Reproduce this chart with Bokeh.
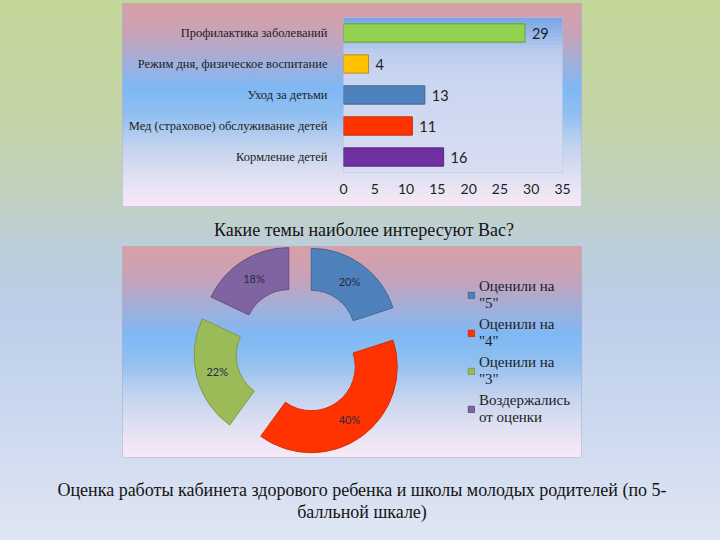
import numpy as np
from bokeh.plotting import figure
from bokeh.models import (ColumnDataSource, FactorRange, Range1d, Label, Legend,
                          LegendItem, BoxAnnotation, Spacer, FixedTicker,
                          GlobalInlineStyleSheet)
from bokeh.layouts import column, row
from bokeh.embed import file_html
from bokeh.resources import INLINE
from bokeh.core.properties import value
from bokeh.core.validation import silence
from bokeh.core.validation.warnings import MISSING_RENDERERS

silence(MISSING_RENDERERS, True)

# ---------------- data ----------------
bar_categories = [
    "Профилактика заболеваний",
    "Режим дня, физическое воспитание",
    "Уход за детьми",
    "Мед (страховое) обслуживание детей",
    "Кормление детей",
]
bar_values = [29, 4, 13, 11, 16]
bar_colors = ["#92d050", "#ffc000", "#4f81bd", "#ff3300", "#7030a0"]
bar_line_colors = ["#6f9a3c", "#b98c2a", "#3b6597", "#c42d0c", "#55267c"]
x_ticks = [0, 5, 10, 15, 20, 25, 30, 35]
bar_title = "Какие темы наиболее интересуют Вас?"

donut_labels = ['Оценили на\n"5"', 'Оценили на\n"4"', 'Оценили на\n"3"', "Воздержались\nот оценки"]
donut_values = [20, 40, 22, 18]
donut_colors = ["#4f81bd", "#ff3300", "#9bbb59", "#8064a2"]
donut_line_colors = ["#3d6a9e", "#d42e00", "#7f9a48", "#664f86"]
donut_title_lines = [
    "Оценка работы кабинета здорового ребенка и школы молодых родителей (по 5-",
    "балльной шкале)",
]

# ---------------- styling helpers ----------------
page_stops = [(0, "#c4d79a"), (20, "#c4d5a6"), (35, "#c1d2bd"), (45, "#bdcfd8"),
              (55, "#bccde8"), (75, "#c9d7ef"), (100, "#e0e6f3")]
box_stops = [(0, "#d9a0a4"), (15, "#c8a2b8"), (30, "#9fb0dc"), (42, "#7fb8f5"),
             (55, "#92c0f0"), (70, "#c2d2ee"), (85, "#e0e0f2"), (100, "#f8e9f7")]
frame_stops = [(0, "#78a6e4"), (10, "#93b6ea"), (22, "#bccdee"), (40, "#cad6f0"),
               (100, "#d9ddf1")]


def css_grad(stops):
    return "linear-gradient(180deg, " + ", ".join(f"{c} {p}%" for p, c in stops) + ")"


def hex2rgb(h):
    h = h.lstrip("#")
    return np.array([int(h[i:i + 2], 16) for i in (0, 2, 4)], dtype=float)


def interp_color(stops, t):
    ps = [p / 100 for p, _ in stops]
    cs = [hex2rgb(c) for _, c in stops]
    for i in range(len(ps) - 1):
        if ps[i] <= t <= ps[i + 1]:
            f = (t - ps[i]) / (ps[i + 1] - ps[i])
            c = cs[i] * (1 - f) + cs[i + 1] * f
            return "#%02x%02x%02x" % tuple(int(round(v)) for v in c)
    return stops[-1][1]


box_style = {"background": css_grad(box_stops),
             "box-shadow": "inset 0 0 0 1px rgba(170,178,195,0.6)"}

SERIF = "Liberation Serif"
SANS = "Lato"

# ---------------- bar chart ----------------
bar_src = ColumnDataSource(dict(cat=bar_categories, val=bar_values,
                                color=bar_colors, line=bar_line_colors,
                                txt=[str(v) for v in bar_values]))

p1 = figure(width=460, height=204, output_backend="svg", toolbar_location=None,
            x_range=Range1d(0, 35), y_range=FactorRange(factors=bar_categories[::-1]),
            min_border_left=221, min_border_right=20, min_border_top=14,
            min_border_bottom=35, styles=box_style)
p1.background_fill_color = None
p1.border_fill_color = None
p1.outline_line_color = "#b9c2da"
p1.outline_line_alpha = 0.6

n_strip = 40
for i in range(n_strip):
    t0 = i / n_strip
    col = interp_color(frame_stops, t0 + 0.5 / n_strip)
    top = 5 - t0 * 5
    bot = 5 - (i + 1) / n_strip * 5 - 0.02
    p1.add_layout(BoxAnnotation(top=top, bottom=max(bot, 0), fill_color=col,
                                fill_alpha=1, line_color=None, level="underlay"))

p1.hbar(y="cat", left=0, right="val", height=0.59, source=bar_src,
        fill_color="color", line_color="line", line_width=1)
p1.text(x="val", y="cat", text="txt", source=bar_src, x_offset=7,
        text_baseline="middle", text_align="left", text_font=value(SANS),
        text_font_size="14.5px", text_color="#1e1e1e")

p1.xgrid.visible = False
p1.ygrid.visible = False
p1.xaxis.ticker = FixedTicker(ticks=x_ticks)
for ax in (p1.xaxis[0], p1.yaxis[0]):
    ax.axis_line_color = None
    ax.major_tick_line_color = None
    ax.minor_tick_line_color = None
p1.xaxis.major_label_text_font = SANS
p1.xaxis.major_label_text_font_size = "14px"
p1.xaxis.major_label_text_color = "#1e1e1e"
p1.xaxis.major_label_standoff = 5
p1.yaxis.major_label_text_font = SERIF
p1.yaxis.major_label_text_font_size = "12.5px"
p1.yaxis.major_label_text_color = "#1e1e1e"
p1.yaxis.major_label_standoff = 10


# ---------------- captions ----------------
def caption(lines, height, ys, xc):
    f = figure(width=720, height=height, output_backend="svg", toolbar_location=None,
               x_range=Range1d(0, 720), y_range=Range1d(height, 0),
               x_axis_type=None, y_axis_type=None, min_border=0)
    f.background_fill_color = None
    f.border_fill_color = None
    f.outline_line_color = None
    f.xgrid.visible = False
    f.ygrid.visible = False
    for line, y in zip(lines, ys):
        f.add_layout(Label(x=xc, y=y, text=line, text_align="center",
                           text_baseline="middle", text_font=SERIF,
                           text_font_size="18px", text_color="#141414"))
    return f


cap1 = caption([bar_title], 39, [22], 363.5)
cap2 = caption(donut_title_lines, 82, [31, 53.5], 361.5)

# ---------------- donut ----------------
vals = np.array(donut_values, dtype=float)
frac = vals / vals.sum()
cum = np.concatenate([[0], np.cumsum(frac)])
a1 = 2 * np.pi * cum[:-1]          # clockwise from 12 o'clock
a2 = 2 * np.pi * cum[1:]
mid = (a1 + a2) / 2
explode = 20
r_in, r_out = 44, 86
cx = explode * np.sin(mid)
cy = explode * np.cos(mid)
r_mid = (r_in + r_out) / 2

donut_src = ColumnDataSource(dict(
    x=cx, y=cy, start=np.pi / 2 - a2, end=np.pi / 2 - a1,
    color=donut_colors, line=donut_line_colors,
    lx=cx + r_mid * np.sin(mid), ly=cy + r_mid * np.cos(mid),
    txt=[f"{int(v)}%" for v in donut_values]))

p2 = figure(width=460, height=212, output_backend="svg", toolbar_location=None,
            x_range=Range1d(-177, 283), y_range=Range1d(-108, 104),
            x_axis_type=None, y_axis_type=None, min_border=0, styles=box_style)
p2.background_fill_color = None
p2.border_fill_color = None
p2.outline_line_color = None
p2.xgrid.visible = False
p2.ygrid.visible = False

wedges = p2.annular_wedge(x="x", y="y", inner_radius=r_in, outer_radius=r_out,
                          start_angle="start", end_angle="end", source=donut_src,
                          fill_color="color", line_color="line", line_width=1)
p2.text(x="lx", y="ly", text="txt", source=donut_src, text_align="center",
        text_baseline="middle", text_font=value(SANS), text_font_size="11px",
        text_color="#262a40")

legend = Legend(items=[LegendItem(label=lab, renderers=[wedges], index=i)
                       for i, lab in enumerate(donut_labels)],
                location=(345, 32), orientation="vertical")
legend.background_fill_alpha = 0
legend.border_line_color = None
legend.label_text_font = SERIF
legend.label_text_font_size = "15px"
legend.label_text_color = "#1e1e1e"
legend.label_text_line_height = 1.0
legend.glyph_width = 8
legend.glyph_height = 8
legend.label_standoff = 4
legend.spacing = 4
legend.padding = 0
legend.margin = 0
p2.add_layout(legend)

# ---------------- layout ----------------
page_css = GlobalInlineStyleSheet(
    css="html{min-height:100%;background:" + css_grad(page_stops) +
        " fixed;} body{background:transparent;}")

layout = column(
    Spacer(width=720, height=3),
    row(Spacer(width=122, height=204), p1),
    cap1,
    row(Spacer(width=122, height=212), p2),
    cap2,
    width=720, height=540, stylesheets=[page_css],
)

open("out.html", "w").write(file_html(layout, INLINE))
